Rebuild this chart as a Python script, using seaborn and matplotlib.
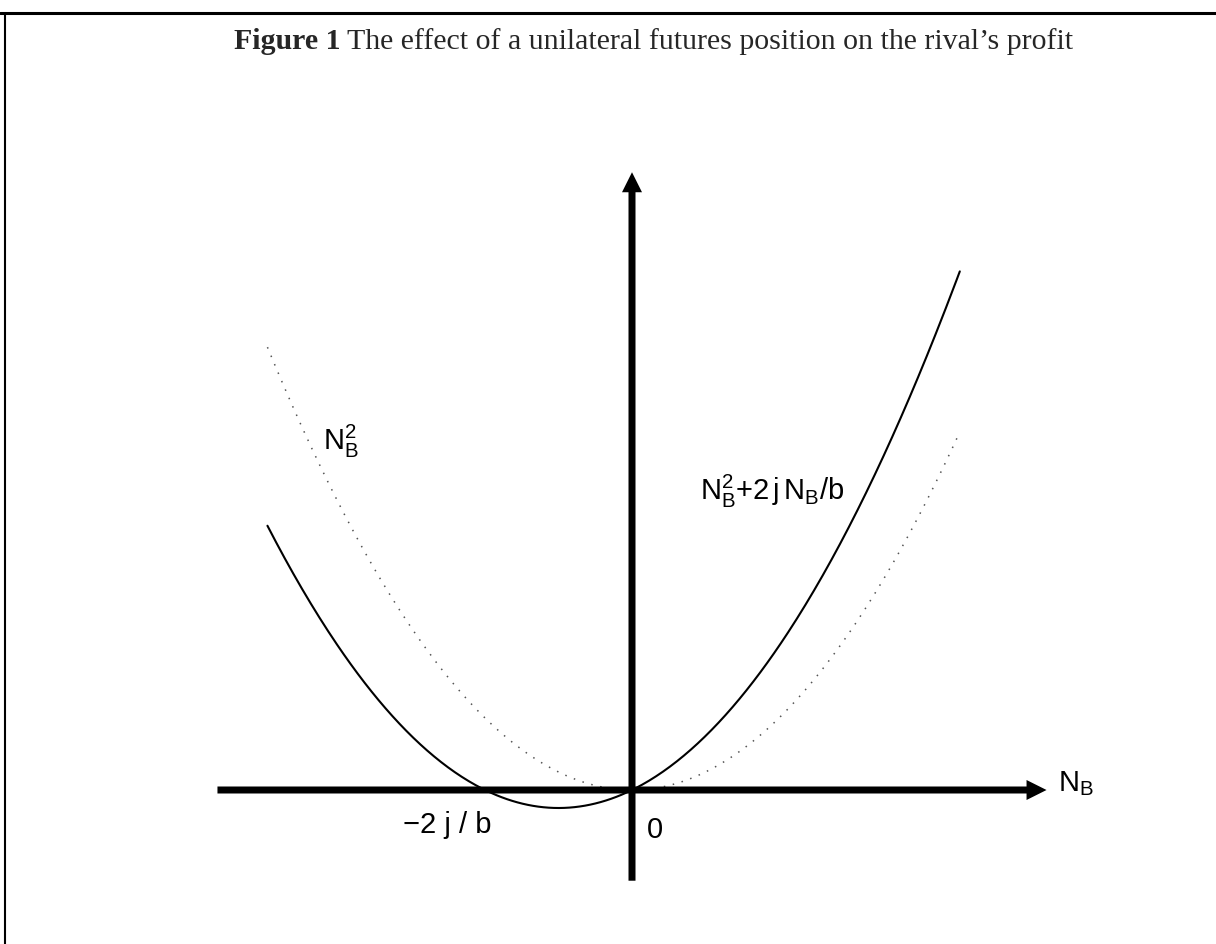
import matplotlib
matplotlib.use("Agg")
import matplotlib.pyplot as plt
from matplotlib.lines import Line2D
import numpy as np
import pandas as pd
import seaborn as sns

sns.set_theme(style="white")
plt.rcParams['font.family'] = ['Liberation Sans', 'DejaVu Sans']
plt.rcParams['mathtext.fontset'] = 'custom'
plt.rcParams['mathtext.rm'] = 'Liberation Sans'
plt.rcParams['mathtext.it'] = 'Liberation Sans'

# N_B is measured in units of the shift 2j/b
two_j_over_b = 1.0
nb_range = [-2.48, 2.23]          # extent of both profit curves
x_axis_range = [-2.82, 2.82]      # horizontal axis (N_B)
y_axis_range = [-1.26, 8.58]      # vertical axis (profit)

title_bold = "Figure 1"
title_rest = " The effect of a unilateral futures position on the rival\u2019s profit"
label_base = r"$\mathregular{N_B^2}$"
label_hedged = r"$\mathregular{N_B^2{+}2\,j\,N_B/b}$"
label_root = "\u22122 j / b"
label_origin = "0"
label_xaxis = r"$\mathregular{N_B}$"

nb = np.linspace(nb_range[0], nb_range[1], 400)
curves = pd.DataFrame({
    "N_B": nb,
    "unhedged": nb ** 2,
    "hedged": nb ** 2 + two_j_over_b * nb,
})

W, H = 1216, 945
fig = plt.figure(figsize=(W / 100, H / 100), dpi=100)
ax = fig.add_axes([0, 0, 1, 1])

# origin at pixel (632, 791); 147 px per unit of N_B, 72 px per unit of profit
ox, oy, sx, sy = 632, 791, 147.0, 72.0
ax.set_xlim(-ox / sx, (W - ox) / sx)
ax.set_ylim(-(H - oy) / sy, oy / sy)
ax.axis("off")

# profit curves
sns.lineplot(data=curves, x="N_B", y="unhedged", ax=ax, color="#555555",
             linewidth=1.1, linestyle=(0, (1, 5)), sort=False)
sns.lineplot(data=curves, x="N_B", y="hedged", ax=ax, color="black",
             linewidth=1.5, sort=False)

# coordinate axes drawn as thick arrows
shaft = 7.0
head_w = 20.0
head_l = 20.0
ax.arrow(x_axis_range[0], 0, x_axis_range[1] - x_axis_range[0], 0,
         width=shaft / sy, head_width=head_w / sy, head_length=head_l / sx,
         length_includes_head=True, color="black", linewidth=0, zorder=3)
ax.arrow(0, y_axis_range[0], 0, y_axis_range[1] - y_axis_range[0],
         width=shaft / sx, head_width=head_w / sx, head_length=head_l / sy,
         length_includes_head=True, color="black", linewidth=0, zorder=3)

lab = dict(fontsize=21, color="black")
ax.text((323 - ox) / sx, (oy - 450) / sy, label_base, ha="left", va="baseline", **lab)
ax.text((700 - ox) / sx, (oy - 500) / sy, label_hedged, ha="left", va="baseline", **lab)
ax.text((447 - ox) / sx, (oy - 833) / sy, label_root, ha="center", va="baseline", **lab)
ax.text((647 - ox) / sx, (oy - 838) / sy, label_origin, ha="left", va="baseline", **lab)
ax.text((1058 - ox) / sx, (oy - 791) / sy, label_xaxis, ha="left", va="baseline", **lab)

# caption
t1 = fig.text(234 / W, 1 - 49 / H, title_bold, fontsize=21.5, fontweight="bold",
              family="Liberation Serif", ha="left", va="baseline")
ax.annotate(title_rest, xy=(1, 0), xycoords=t1, ha="left", va="bottom",
            fontsize=21.5, family="Liberation Serif", annotation_clip=False)

# frame lines along top and left
fig.add_artist(Line2D([0, 1], [1 - 14 / H, 1 - 14 / H], color="black", linewidth=2.2))
fig.add_artist(Line2D([5 / W, 5 / W], [0, 1 - 14 / H], color="black", linewidth=1.5))

fig.savefig("out.png", dpi=100)
